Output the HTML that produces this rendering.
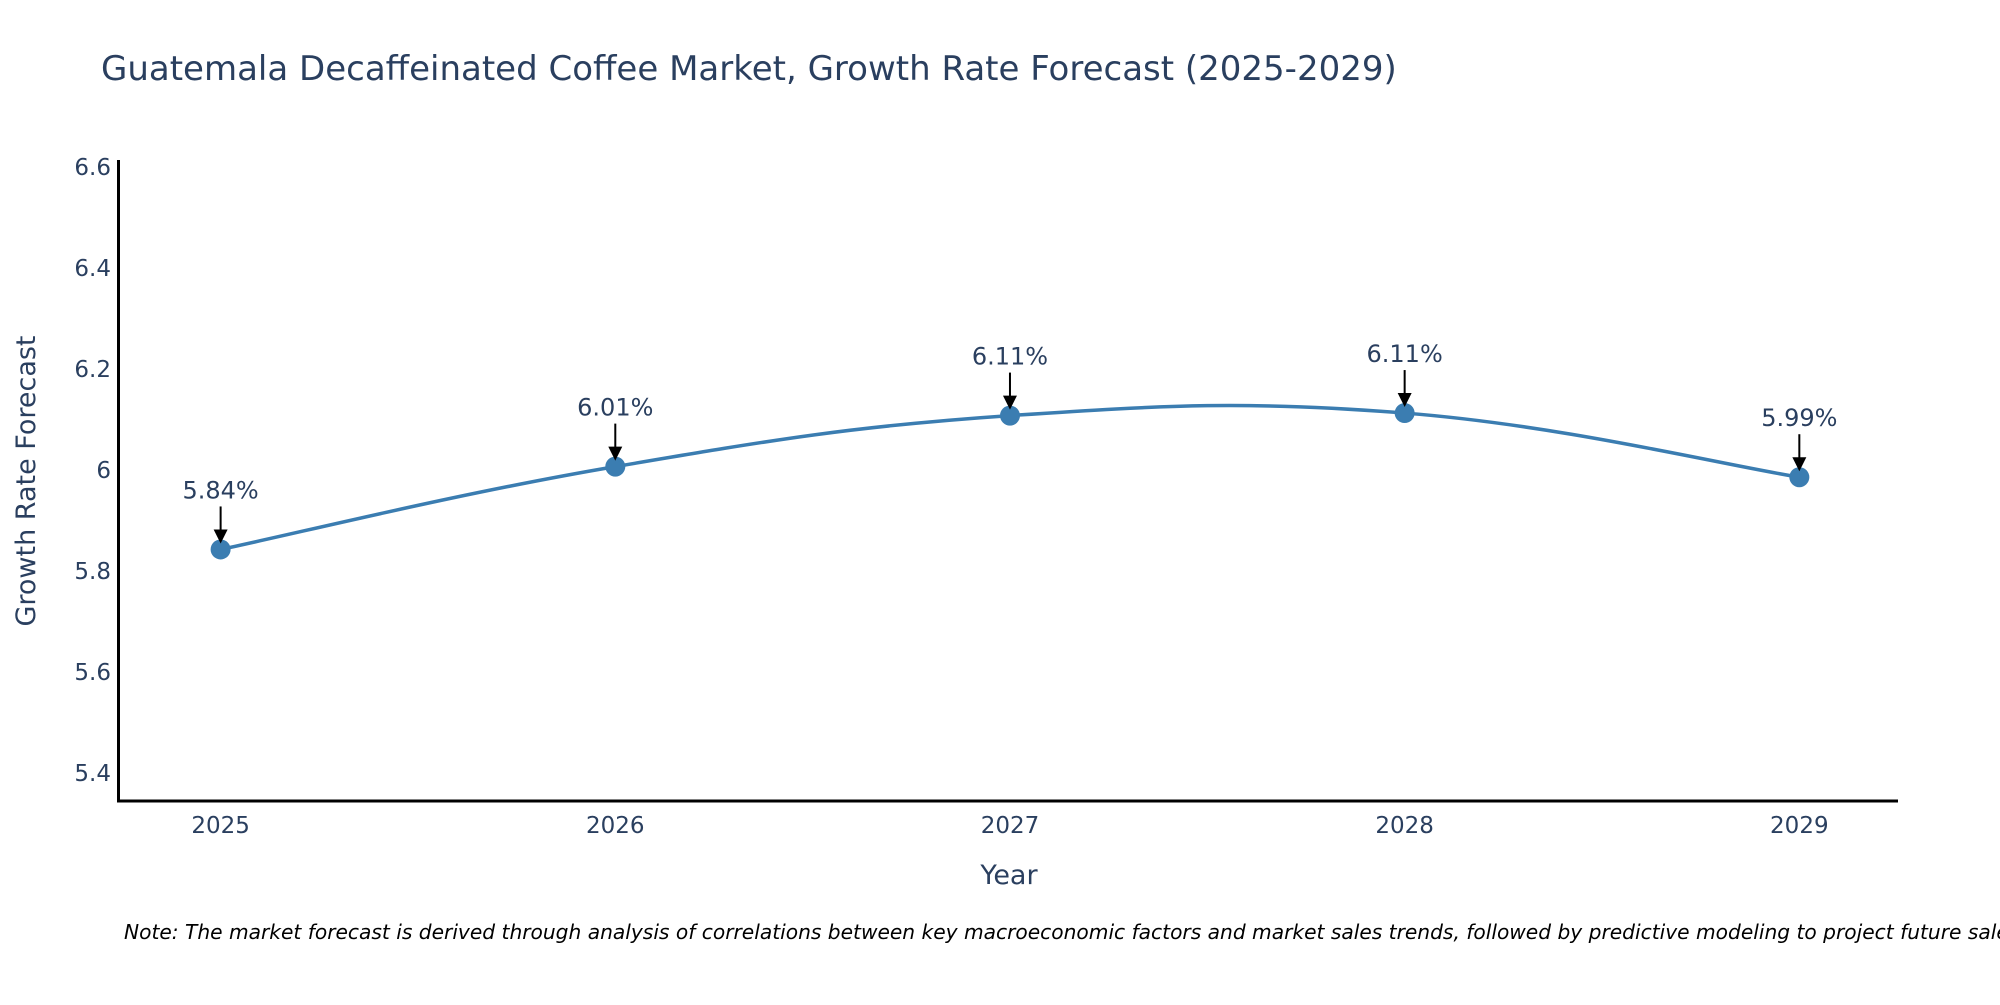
<!DOCTYPE html>
<html><head><meta charset="utf-8"><style>
body{margin:0;background:#fff;}
svg text{font-family:"DejaVu Sans","Liberation Sans",sans-serif;}
</style></head><body>
<svg id="chart" width="2000" height="1000" viewBox="0 0 2000 1000" xmlns="http://www.w3.org/2000/svg">
<text x="101" y="80" font-size="34" fill="#2a3f5f">Guatemala Decaffeinated Coffee Market, Growth Rate Forecast (2025-2029)</text>
<g id="yticks"></g><g id="xticks"></g>
<line x1="118.5" y1="160" x2="118.5" y2="802" stroke="#000" stroke-width="3"/>
<line x1="117" y1="801" x2="1898" y2="801" stroke="#000" stroke-width="3"/>
<text transform="translate(35,481) rotate(-90)" text-anchor="middle" font-size="27" fill="#2a3f5f">Growth Rate Forecast</text>
<text x="1009" y="884" text-anchor="middle" font-size="27" fill="#2a3f5f">Year</text>
<g id="series"></g>
<text x="124" y="939" font-size="20.2" font-style="italic" fill="#000">Note: The market forecast is derived through analysis of correlations between key macroeconomic factors and market sales trends, followed by predictive modeling to project future sales.</text>
</svg>
<script>
const years = [2025, 2026, 2027, 2028, 2029];
const values = [5.843, 6.007, 6.108, 6.113, 5.986];
const labels = ["5.84%", "6.01%", "6.11%", "6.11%", "5.99%"];
const yTickValues = [5.4, 5.6, 5.8, 6, 6.2, 6.4, 6.6];
const yTickLabels = ["5.4", "5.6", "5.8", "6", "6.2", "6.4", "6.6"];

const NS = "http://www.w3.org/2000/svg";
const X0 = 118, X1 = 1898, XMIN = 2024.74, XMAX = 2029.25;
const Y0 = 801, Y1 = 161, YMIN = 5.345, YMAX = 6.612;
function xs(v){return X0 + (v - XMIN) / (XMAX - XMIN) * (X1 - X0);}
function ys(v){return Y0 - (v - YMIN) / (YMAX - YMIN) * (Y0 - Y1);}
function mk(tag, attrs, parent){const e=document.createElementNS(NS,tag);for(const k in attrs)e.setAttribute(k,attrs[k]);parent.appendChild(e);return e;}

const yt = document.getElementById('yticks');
yTickValues.forEach((v,i)=>{
  const t = mk('text',{x:X0-7,y:ys(v)+8,'text-anchor':'end','font-size':'23',fill:'#2a3f5f'},yt);
  
  
  t.textContent = yTickLabels[i];
});
const xt = document.getElementById('xticks');
years.forEach(v=>{
  const t = mk('text',{x:xs(v),y:Y0+32,'text-anchor':'middle','font-size':'23',fill:'#2a3f5f'},xt);
  
  
  t.textContent = String(v);
});

const g = document.getElementById('series');
const pts = years.map((y,i)=>[xs(y), ys(values[i])]);
let d = 'M'+pts[0][0]+','+pts[0][1];
const s = 0.2;
for(let i=0;i<pts.length-1;i++){
  const p0 = pts[Math.max(i-1,0)], p1=pts[i], p2=pts[i+1], p3=pts[Math.min(i+2,pts.length-1)];
  const c1=[p1[0]+(p2[0]-p0[0])*s, p1[1]+(p2[1]-p0[1])*s];
  const c2=[p2[0]-(p3[0]-p1[0])*s, p2[1]-(p3[1]-p1[1])*s];
  d += ' C'+c1+' '+c2+' '+p2;
}
const line = mk('path',{d:d,fill:'none',stroke:'#3b7db1','stroke-width':'3.5'},g);


pts.forEach((p,i)=>{
  const c = mk('circle',{cx:p[0],cy:p[1],r:'10',fill:'#3b7db1'},g);
  
  
  const a = mk('line',{x1:p[0],y1:p[1]-43,x2:p[0],y2:p[1]-18,stroke:'#000','stroke-width':'2'},g);
  
  
  const h = mk('polygon',{points:(p[0]-7)+','+(p[1]-20)+' '+(p[0]+7)+','+(p[1]-20)+' '+p[0]+','+(p[1]-6),fill:'#000'},g);
  
  
  const t = mk('text',{x:p[0],y:p[1]-51,'text-anchor':'middle','font-size':'24',fill:'#2a3f5f'},g);
  
  
  t.textContent = labels[i];
});
</script>
</body></html>
